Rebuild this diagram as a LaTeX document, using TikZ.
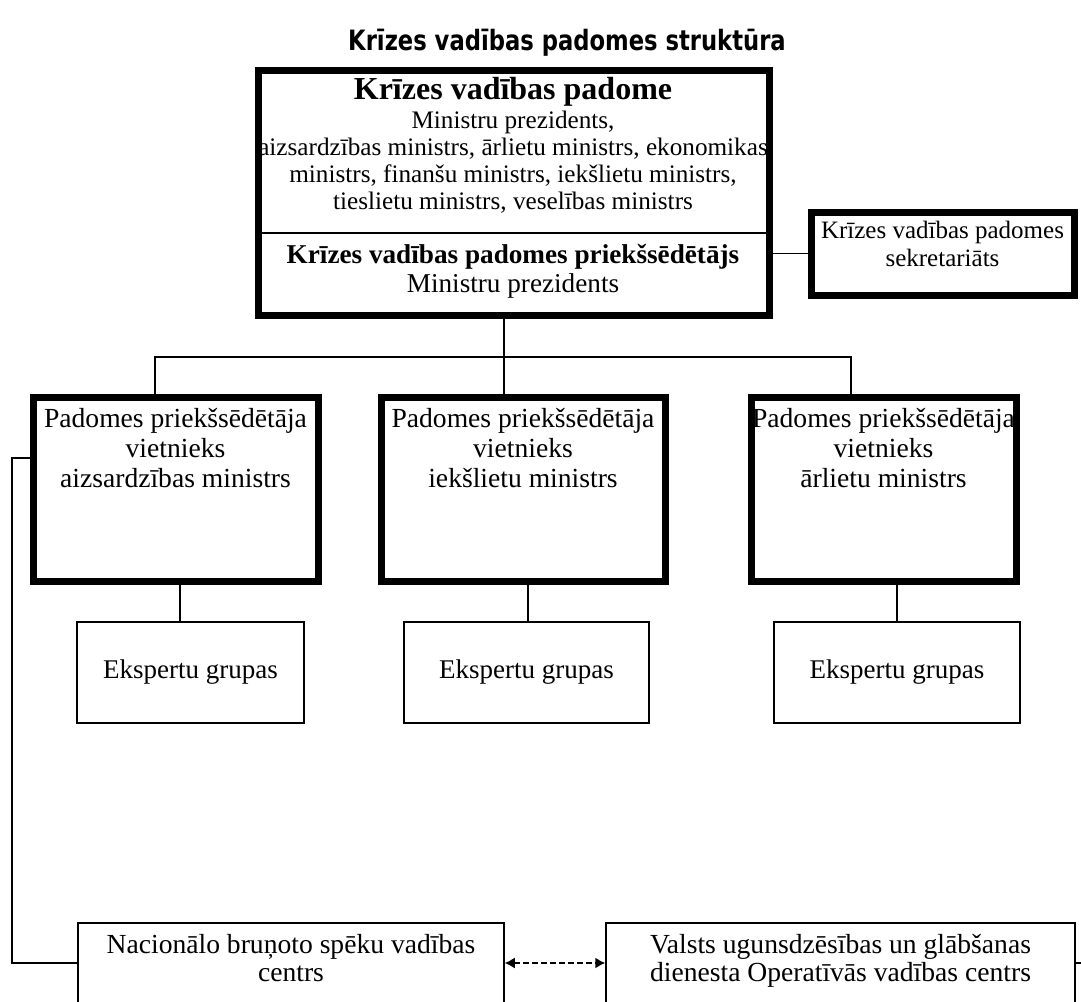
\documentclass[tikz,border=0pt]{standalone}
\usepackage{fontspec}
\setmainfont{Liberation Serif}
\newfontfamily\titlefont[FakeStretch=0.81]{DejaVu Sans}
\usetikzlibrary{arrows.meta}

\begin{document}
\begin{tikzpicture}[x=0.5pt,y=-0.5pt,
	thickbox/.style={draw,line width=3.5pt,inner sep=0pt},
	thinbox/.style={draw,line width=0.75pt,inner sep=0pt},
	conn/.style={line width=0.75pt},
	txt/.style={inner sep=0pt,align=center}]
		\clip (0,0) rectangle (1081,1001);
		\fill[white] (0,0) rectangle (1081,1001);

		\node[txt,anchor=base,font=\titlefont\bfseries\fontsize{14}{16}\selectfont] (title) at (567,50) {Krīzes vadības padomes struktūra};

		\node[thickbox,minimum width=255.5pt,minimum height=122.5pt] (council) at (513.5,192.5) {};
		\node[thickbox,minimum width=131.5pt,minimum height=41.5pt] (sec) at (942.5,253.5) {};
		\node[txt,anchor=base,font=\fontsize{16}{18}\selectfont\bfseries] (councilHead) at (513,99) {Krīzes vadības padome};
		\node[txt,anchor=north,font=\fontsize{12.6}{13.5}\selectfont] (councilList) at (513,111) {Ministru prezidents,\\ aizsardzības ministrs, ārlietu ministrs, ekonomikas\\ ministrs, finanšu ministrs, iekšlietu ministrs,\\ tieslietu ministrs, veselības ministrs};
		\node[txt,anchor=north,font=\fontsize{13.6}{14.5}\selectfont] (chair) at (513,243.5) {\textbf{Krīzes vadības padomes priekšsēdētājs}\\ Ministru prezidents};
		\node[txt,anchor=north,font=\fontsize{12.5}{14}\selectfont] (secText) at (942.5,221) {Krīzes vadības padomes\\ sekretariāts};

		\node[thickbox,minimum width=142.5pt,minimum height=92pt] (L) at (175.5,489) {};
		\node[thickbox,minimum width=142pt,minimum height=92pt] (M) at (523,489) {};
		\node[thickbox,minimum width=132.5pt,minimum height=92pt] (R) at (883.5,489) {};
		\node[txt,anchor=north,font=\fontsize{13.8}{15}\selectfont] (LText) at ([yshift=-7pt]L.north) {Padomes priekšsēdētāja\\ vietnieks\\ aizsardzības ministrs};
		\node[txt,anchor=north,font=\fontsize{13.8}{15}\selectfont] (MText) at ([yshift=-7pt]M.north) {Padomes priekšsēdētāja\\ vietnieks\\ iekšlietu ministrs};
		\node[txt,anchor=north,font=\fontsize{13.8}{15}\selectfont] (RText) at ([yshift=-7pt]R.north) {Padomes priekšsēdētāja\\ vietnieks\\ ārlietu ministrs};

		\node[thinbox,minimum width=113.5pt,minimum height=50.5pt,font=\fontsize{13.5}{15}\selectfont] (EL) at (190.5,672.5) {Ekspertu grupas};
		\node[thinbox,minimum width=122.5pt,minimum height=50.5pt,font=\fontsize{13.5}{15}\selectfont] (EM) at (526.5,672.5) {Ekspertu grupas};
		\node[thinbox,minimum width=123pt,minimum height=50.5pt,font=\fontsize{13.5}{15}\selectfont] (ER) at (897,672.5) {Ekspertu grupas};

		\node[thinbox,minimum width=213pt,minimum height=53.5pt] (BL) at (291,976.5) {};
		\node[thinbox,minimum width=234.5pt,minimum height=53.5pt] (BR) at (840.5,976.5) {};
		\node[txt,anchor=north,font=\fontsize{13.8}{14}\selectfont] (BLText) at ([yshift=-6pt]BL.north) {Nacionālo bruņoto spēku vadības\\ centrs};
		\node[txt,anchor=north,font=\fontsize{13.8}{14}\selectfont] (BRText) at ([yshift=-6pt]BR.north) {Valsts ugunsdzēsības un glābšanas\\ dienesta Operatīvās vadības centrs};

		\coordinate (div) at (0,233);
		\coordinate (hub) at (504,357);
		\coordinate (busL) at (155,357);
		\coordinate (busR) at (851,357);
		\coordinate (sideL) at (12,458);
		\coordinate (rowB) at (0,963);
		\coordinate (edgeR) at (1081,963);

		\draw[conn] (council.west |- div) -- (council.east |- div);
		\draw[conn] (sec.west) -- (sec.west -| council.east);
		\draw[conn] (council.south -| hub) -- (hub) -- (hub |- M.north);
		\draw[conn] (busL |- L.north) -- (busL) -- (busR) -- (busR |- R.north);
		\foreach \b/\e/\x in {L/EL/180,M/EM/528,R/ER/897}
			\draw[conn] (\b.south -| \x,0) -- (\e.north -| \x,0);
		\draw[conn] (L.west |- sideL) -- (sideL) -- (sideL |- rowB) -- (BL.west |- rowB);
		\draw[conn,dash pattern=on 3pt off 1.5pt,{Latex[length=5pt,width=5.5pt]}-{Latex[length=5pt,width=5.5pt]}] (BL.east |- rowB) -- (BR.west |- rowB);
		\draw[conn] (BR.east |- rowB) -- (edgeR);
	\end{tikzpicture}
\end{document}
